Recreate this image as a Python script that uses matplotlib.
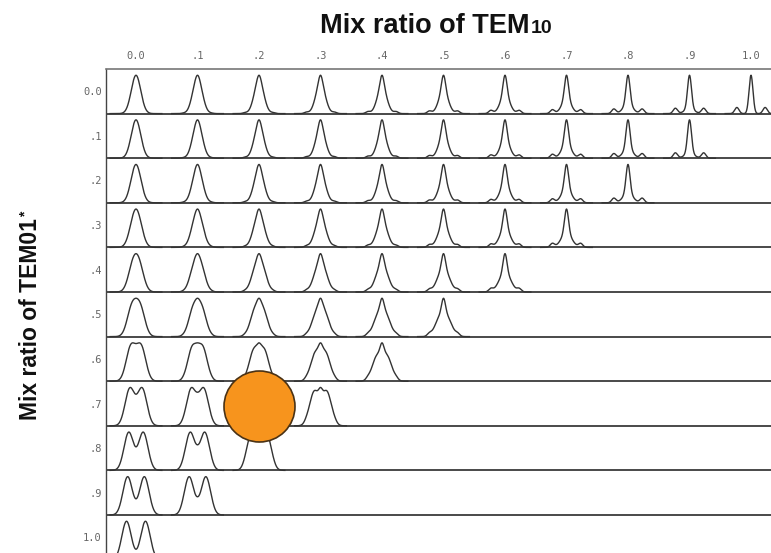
import numpy as np
import matplotlib
matplotlib.use("Agg")
import matplotlib.pyplot as plt

# ---- data ----
col_ratios = [0.0, 0.1, 0.2, 0.3, 0.4, 0.5, 0.6, 0.7, 0.8, 0.9, 1.0]   # TEM10 mix
row_ratios = [0.0, 0.1, 0.2, 0.3, 0.4, 0.5, 0.6, 0.7, 0.8, 0.9, 1.0]   # TEM01* mix
col_labels = ["0.0", ".1", ".2", ".3", ".4", ".5", ".6", ".7", ".8", ".9", "1.0"]
row_labels = ["0.0", ".1", ".2", ".3", ".4", ".5", ".6", ".7", ".8", ".9", "1.0"]
highlight_col = 0.2
highlight_row = 0.7

W, H = 771, 553
fig = plt.figure(figsize=(W / 100, H / 100), dpi=100)
fig.patch.set_facecolor("white")

# axes geometry in pixels
left_px, right_px, top_px = 106, 776, 69
row_h = 44.6
bottom_px = top_px + 11 * row_h
ax = fig.add_axes([left_px / W, (H - bottom_px) / H,
                   (right_px - left_px) / W, (bottom_px - top_px) / H])
col_sp = 61.5
ax.set_xlim(-(136 - left_px) / col_sp, (right_px - 136) / col_sp)
ax.set_ylim(-10, 1)


def gauss(u, s):
    return np.exp(-u ** 2 / (2 * s ** 2))


def profile(u, a, b):
    sig = 0.077
    d = 2.0 * sig * b ** 1.2            # TEM01* splits the beam into a ring
    wide = 0.5 * (gauss(u - d, sig) + gauss(u + d, sig))
    narrow = gauss(u, 0.032) + 0.16 * (gauss(u - 0.23, 0.035) + gauss(u + 0.23, 0.035))
    k = a ** 1.3
    return (1 - k) * wide / wide.max() + k * narrow


u = np.linspace(-0.42, 0.42, 400)
line_col = "#333333"
for i, b in enumerate(row_ratios):
    ax.axhline(-i, color="#3a3a3a", lw=1.3, zorder=2)
    for j, a in enumerate(col_ratios):
        if a + b > 1.0 + 1e-9:
            continue
        p = profile(u, a, b)
        p = p / p.max() * 0.86
        ax.plot(j + u, -i + p, color=line_col, lw=1.0, zorder=3)

# highlight circle
hj = col_ratios.index(highlight_col)
hi = row_ratios.index(highlight_row)
ax.scatter([hj], [-hi + 0.45], s=(71 * 0.72) ** 2, color="#F7941D",
           edgecolor="#4a3215", linewidth=1.2, zorder=5)

for s in ["right", "bottom"]:
    ax.spines[s].set_visible(False)
ax.spines["top"].set_color("#777777")
ax.spines["top"].set_linewidth(1.2)
ax.spines["left"].set_color("#444444")
ax.spines["left"].set_linewidth(1.0)

ax.xaxis.tick_top()
ax.set_xticks(range(len(col_labels)))
ax.set_xticklabels(col_labels, fontsize=7.5, color="#666666", family="DejaVu Sans Mono")
ax.set_yticks([-i + 0.5 for i in range(len(row_labels))])
ax.set_yticklabels(row_labels, fontsize=7.5, color="#666666", family="DejaVu Sans Mono")
ax.tick_params(axis="x", length=0, pad=6)
ax.tick_params(axis="y", length=0, pad=3)

# title with smaller "10"
fig.canvas.draw()
r = fig.canvas.get_renderer()
t1 = fig.text(320 / W, (H - 33) / H, "Mix ratio of TEM", fontsize=19.5,
              fontweight="bold", family="Liberation Sans", color="#111111",
              ha="left", va="baseline")
bb = t1.get_window_extent(r)
fig.text((bb.x1 + 1) / W, (H - 33) / H, "10", fontsize=14, fontweight="bold",
         family="Liberation Sans", color="#111111", ha="left", va="baseline")

# y label with superscript "*"
y1 = fig.text(42 / W, (H - 420) / H, "Mix ratio of TEM01", fontsize=16.5,
              fontweight="bold", family="Liberation Sans", color="#111111",
              rotation=90, ha="right", va="bottom")
bb2 = y1.get_window_extent(r)
fig.text((bb2.x0 - 1) / W, (bb2.y1 + 1) / H, "*", fontsize=10,
         fontweight="bold", family="Liberation Sans", color="#111111",
         rotation=90, ha="left", va="bottom")

fig.savefig("out.png", dpi=100, facecolor="white")
